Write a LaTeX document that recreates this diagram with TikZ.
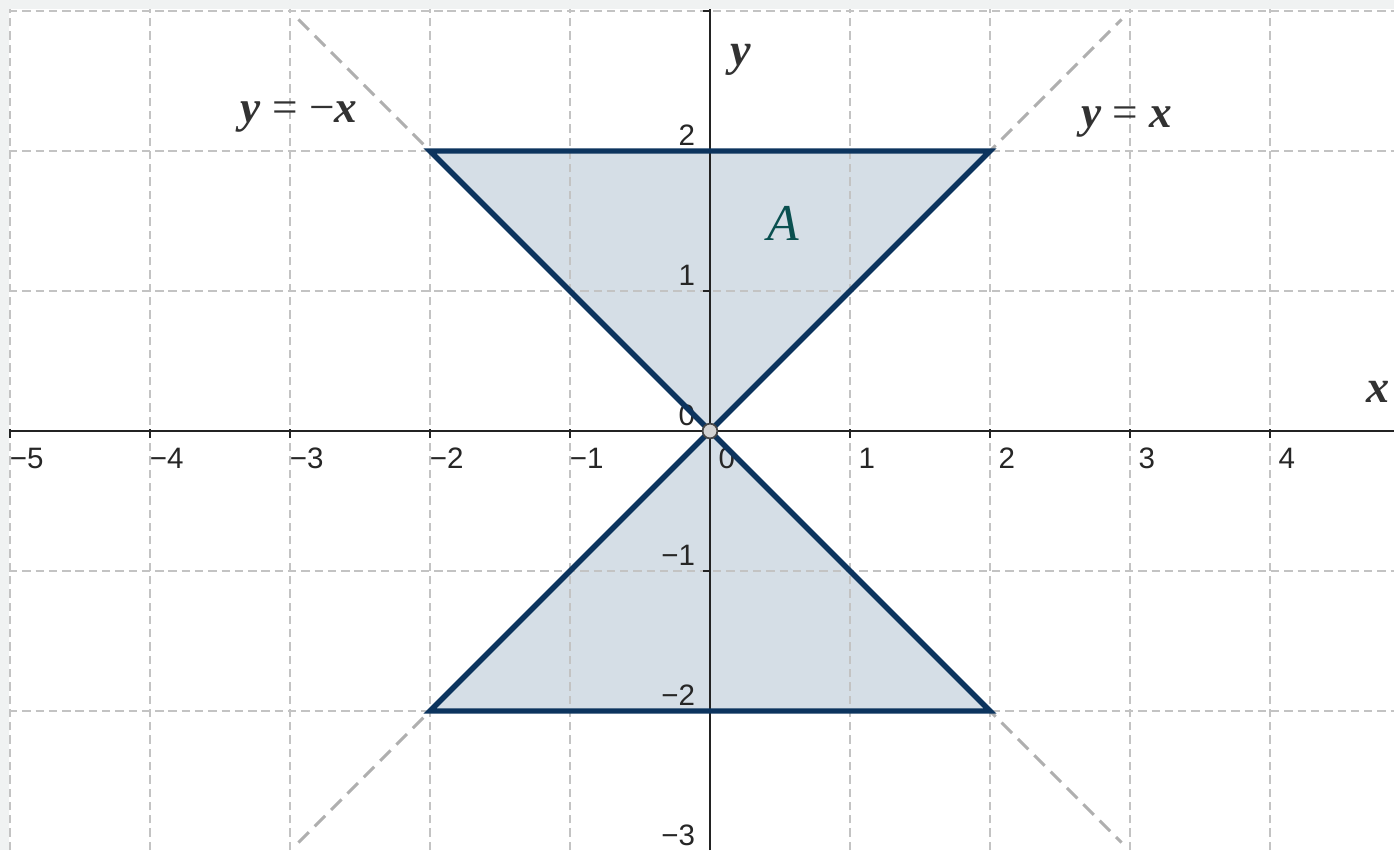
\documentclass[tikz,border=0pt]{standalone}
\usepackage{fontspec}
\setmainfont{Liberation Serif}
\newfontfamily\ticksfont{Liberation Sans}
\definecolor{bgstrip}{RGB}{240,242,242}
\definecolor{gridc}{RGB}{195,195,195}
\definecolor{diagc}{RGB}{175,175,175}
\definecolor{axisc}{RGB}{35,35,35}
\definecolor{regionc}{RGB}{213,222,230}
\definecolor{edgec}{RGB}{12,52,94}
\definecolor{labc}{RGB}{50,50,50}
\definecolor{ac}{RGB}{10,80,80}
\definecolor{ptfill}{RGB}{210,210,210}
\definecolor{ptdraw}{RGB}{70,70,70}
\begin{document}
\begin{tikzpicture}[x=1cm,y=1cm,
  gridline/.style={draw=gridc, line width=0.4pt, dash pattern=on 1.7pt off 1pt},
  diag/.style={draw=diagc, line width=0.6pt, dash pattern=on 3pt off 1.7pt},
  axisline/.style={draw=axisc, line width=0.4pt},
  tickmark/.style={draw=axisc, line width=0.4pt},
  ticklab/.style={font=\ticksfont\fontsize{6}{7}\selectfont, inner sep=0pt, text=black!85},
  eqlab/.style={font=\fontsize{9.2}{10}\selectfont, inner sep=0pt, anchor=base west, text=labc},
  region/.style={fill=regionc},
  edgeline/.style={draw=edgec, line width=1.1pt, line join=miter},
  pt/.style={circle, fill=ptfill, draw=ptdraw, line width=0.35pt, minimum size=3pt, inner sep=0pt}
]
\useasboundingbox (-5.0714,-2.9929) rectangle (4.8857,3.0786);
\fill[bgstrip] (-5.0714,-2.9929) rectangle (4.8857,3.0786);
\fill[white] (-5.007,-2.9929) rectangle (4.8857,3.014);

% shaded region
\fill[region] (-2,2) -- (2,2) -- (0,0) -- cycle;
\fill[region] (-2,-2) -- (2,-2) -- (0,0) -- cycle;

% grid
\foreach \x in {-5,...,4} \draw[gridline] (\x,-2.9929) -- (\x,3.014);
\foreach \y in {-2,...,3} \draw[gridline] (-5.007,\y) -- (4.8857,\y);

% dashed lines y=x and y=-x
\draw[diag] (-2.94,-2.94) -- (2.94,2.94);
\draw[diag] (-2.94,2.94) -- (2.94,-2.94);

% axes
\draw[axisline] (-5.007,0) -- (4.8857,0);
\draw[axisline] (0,-2.9929) -- (0,3.014);
\foreach \x in {-5,...,4} \draw[tickmark] (\x,0.015) -- (\x,-0.05);
\foreach \y in {-2,...,3} \draw[tickmark] (-0.05,\y) -- (0,\y);

% tick labels
\foreach \x/\t [count=\i] in {-5/−5,-4/−4,-3/−3,-2/−2,-1/−1,0/0,1/1,2/2,3/3,4/4}
  \node[ticklab, anchor=base] (xl\i) at (\x+0.12,-0.265) {\t};
\foreach \y/\t [count=\i] in {-3/−3,-2/−2,-1/−1,0/0,1/1,2/2}
  \node[ticklab, anchor=base east] (yl\i) at (-0.1,\y+0.04) {\t};

% axis names
\node[eqlab, font=\fontsize{9.4}{10}\selectfont\bfseries\itshape] (xname) at (4.679,0.207) {x};
\node[eqlab, font=\fontsize{9.4}{10}\selectfont\bfseries\itshape] (yname) at (0.143,2.614) {y};

% equation labels
\node[eqlab] (eqneg) at (-3.357,2.207) {\textbf{\textit{y}} = −\textbf{\textit{x}}};
\node[eqlab] (eqpos) at (2.643,2.171) {\textbf{\textit{y}} = \textbf{\textit{x}}};

% region name
\node[inner sep=0pt, anchor=base west, text=ac, font=\fontsize{10.5}{12}\selectfont\itshape] (A) at (0.407,1.364) {A};

% edges
\draw[edgeline] (-2,2) -- (2,2) -- (0,0) -- cycle;
\draw[edgeline] (-2,-2) -- (2,-2) -- (0,0) -- cycle;

% origin point
\node[pt] (O) at (0,0) {};
\end{tikzpicture}
\end{document}
